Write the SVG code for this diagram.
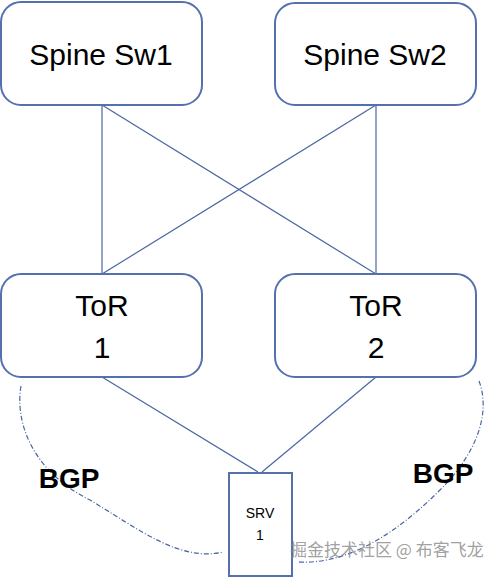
<svg xmlns="http://www.w3.org/2000/svg" width="498" height="578" viewBox="0 0 498 578">
<style>
.box{fill:#fff;stroke:#5471ad;stroke-width:2}
.ln{stroke:#4a67a3;stroke-width:1.2;fill:none}
.bgp{stroke:#4a67a3;stroke-width:1.2;fill:none;stroke-dasharray:5 2 1 2}
.big{font-family:"Liberation Sans",Arial,sans-serif;font-size:30px;fill:#000;text-anchor:middle}
.lbl{font-family:"Liberation Sans",Arial,sans-serif;font-size:28px;font-weight:bold;fill:#000;text-anchor:middle}
.sm{font-family:"Liberation Sans",Arial,sans-serif;font-size:14px;fill:#000;text-anchor:middle}
.wm{font-family:"Noto Sans CJK SC","Liberation Sans",sans-serif;font-size:17px;fill:#888;fill-opacity:0.8}
</style>
<rect width="498" height="578" fill="#fff"/>
<g id="connectors">
<line class="ln" x1="102" y1="105" x2="102" y2="274"/>
<line class="ln" x1="102" y1="105" x2="376" y2="274"/>
<line class="ln" x1="376" y1="105" x2="376" y2="274"/>
<line class="ln" x1="376" y1="105" x2="102" y2="274"/>
<line class="ln" x1="102" y1="377" x2="258" y2="472"/>
<line class="ln" x1="376" y1="377" x2="262" y2="472"/>
<path class="bgp" d="M21,386 C15,420 30,470 90,500 C140,530 180,562 223,552"/>
<path class="bgp" d="M479,381 C490,410 480,450 440,490 C400,530 350,565 298,562"/>
</g>
<g id="spine1"><rect class="box" x="1" y="2" width="201" height="103" rx="20"/><text class="big" x="101" y="65">Spine Sw1</text></g>
<g id="spine2"><rect class="box" x="275" y="3" width="201" height="102" rx="20"/><text class="big" x="375" y="65">Spine Sw2</text></g>
<g id="tor1"><rect class="box" x="1" y="274" width="201" height="103" rx="20"/><text class="big" x="102" y="316">ToR</text><text class="big" x="102" y="358">1</text></g>
<g id="tor2"><rect class="box" x="275" y="274" width="201" height="103" rx="20"/><text class="big" x="376" y="316">ToR</text><text class="big" x="376" y="358">2</text></g>
<g id="srv1"><rect class="box" x="229" y="473" width="63" height="103"/><text class="sm" x="260" y="518">SRV</text><text class="sm" x="260" y="540">1</text></g>
<text class="lbl" x="69" y="488">BGP</text>
<text class="lbl" x="443" y="483">BGP</text>
<text class="wm" x="290" y="556">掘金技术社区 @ 布客飞龙</text>
</svg>
